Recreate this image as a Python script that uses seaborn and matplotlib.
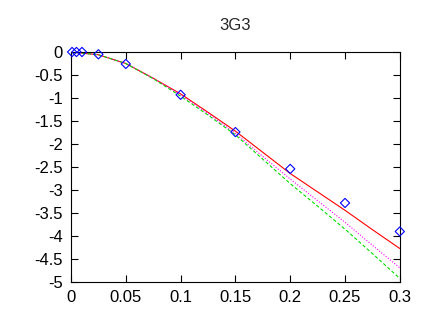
import matplotlib
matplotlib.use('Agg')
import matplotlib.pyplot as plt
import seaborn as sns

sns.set_style('ticks')
plt.rcParams['font.family'] = ['Liberation Sans', 'DejaVu Sans']

# measured points
x_pts = [0.001, 0.005, 0.01, 0.025, 0.05, 0.1, 0.15, 0.2, 0.25, 0.3]
y_pts = [0.0, 0.0, 0.0, -0.05, -0.26, -0.93, -1.74, -2.54, -3.28, -3.9]

# fitted curves
x_fit = [0.0, 0.025, 0.05, 0.075, 0.1, 0.125, 0.15, 0.175, 0.2, 0.225, 0.25, 0.275, 0.3]
y_red = [0.0, -0.06, -0.25, -0.57, -0.91, -1.31, -1.72, -2.18, -2.64, -3.04, -3.44, -3.86, -4.27]
y_magenta = [0.0, -0.06, -0.25, -0.57, -0.93, -1.34, -1.77, -2.27, -2.76, -3.23, -3.70, -4.20, -4.69]
y_green = [0.0, -0.06, -0.25, -0.58, -0.96, -1.37, -1.80, -2.33, -2.86, -3.35, -3.85, -4.38, -4.92]

fig = plt.figure(figsize=(4.29, 3.17), dpi=100)
ax = fig.add_axes([0.1655, 0.110, 0.7665, 0.726])

sns.lineplot(x=x_fit, y=y_red, color='#ff0000', linewidth=0.8, ax=ax)
sns.lineplot(x=x_fit, y=y_magenta, color='#ff00ff', linewidth=0.8, linestyle=(0, (1, 1.5)), ax=ax)
sns.lineplot(x=x_fit, y=y_green, color='#00dd00', linewidth=0.8, linestyle=(0, (3, 2)), ax=ax)
sns.scatterplot(x=x_pts, y=y_pts, marker='D', s=22, facecolor='none', edgecolor='#0000ff',
                linewidth=0.8, ax=ax, zorder=5, clip_on=False)

ax.set_xlim(0, 0.3)
ax.set_ylim(-5, 0)
ax.set_xticks([0, 0.05, 0.1, 0.15, 0.2, 0.25, 0.3])
ax.set_xticklabels(['0', '0.05', '0.1', '0.15', '0.2', '0.25', '0.3'])
ax.set_yticks([0, -0.5, -1, -1.5, -2, -2.5, -3, -3.5, -4, -4.5, -5])
ax.set_yticklabels(['0', '-0.5', '-1', '-1.5', '-2', '-2.5', '-3', '-3.5', '-4', '-4.5', '-5'])
ax.tick_params(direction='in', length=5, width=0.8, top=True, right=True,
               labelsize=12, pad=6, colors='black')
for s in ax.spines.values():
    s.set_linewidth(0.8)
    s.set_color('black')
ax.set_title('3G3', fontsize=12, pad=16)

fig.savefig('out.png', dpi=100)
